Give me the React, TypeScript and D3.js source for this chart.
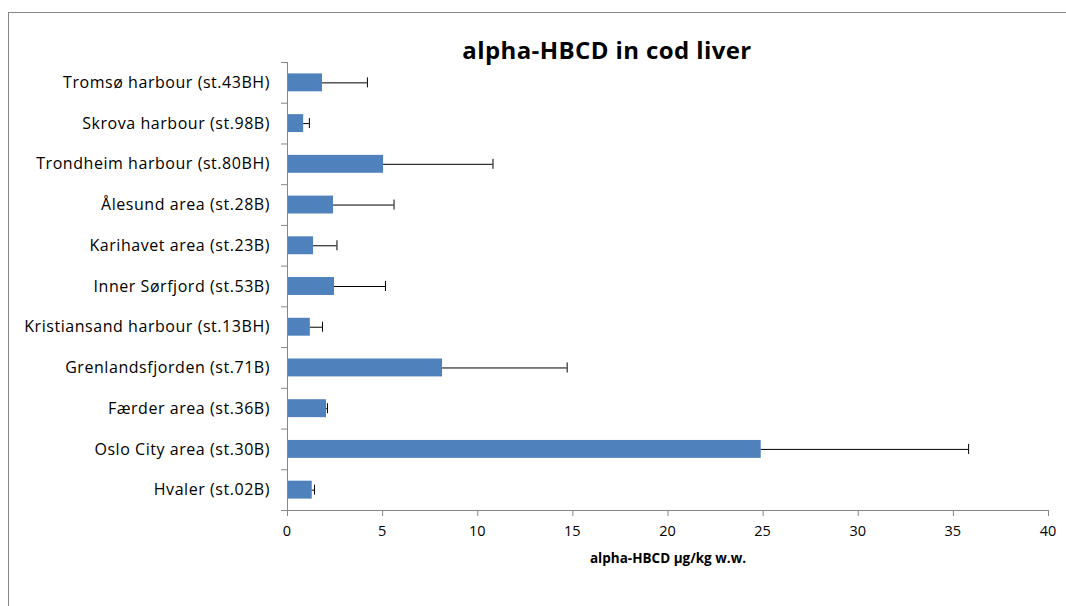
import React from "react";
import * as d3 from "d3";

const stations = [
  "Tromsø harbour (st.43BH)",
  "Skrova harbour (st.98B)",
  "Trondheim harbour (st.80BH)",
  "Ålesund area (st.28B)",
  "Karihavet area (st.23B)",
  "Inner Sørfjord (st.53B)",
  "Kristiansand harbour (st.13BH)",
  "Grenlandsfjorden (st.71B)",
  "Færder area (st.36B)",
  "Oslo City area (st.30B)",
  "Hvaler (st.02B)",
];
const meanValues = [1.84, 0.85, 5.05, 2.42, 1.37, 2.47, 1.2, 8.15, 2.05, 24.9, 1.3];
const upperValues = [4.2, 1.15, 10.8, 5.6, 2.6, 5.15, 1.84, 14.7, 2.1, 35.8, 1.42];
const xTicks = [0, 5, 10, 15, 20, 25, 30, 35, 40];

const W = 1066;
const H = 606;
const left = 287;
const right = 1048;
const top = 62;
const bottom = 510;
const font = "'Open Sans', sans-serif";
const axisColor = "#878787";

export default function App() {
  const x = d3.scaleLinear().domain([0, 40]).range([left, right]);
  const y = d3.scaleBand<string>().domain(stations).range([top, bottom]).paddingInner(0.56).paddingOuter(0.28);
  const band = (bottom - top) / stations.length;
  const capH = 10;

  return (
    <svg width={W} height={H} style={{ position: "absolute", left: 0, top: 0, background: "#fff" }}>
      {/* frame */}
      <line x1={8.5} x2={8.5} y1={12} y2={H} stroke={axisColor} strokeWidth={1} />
      <line x1={8} x2={W} y1={12.5} y2={12.5} stroke={axisColor} strokeWidth={1} />

      <text x={607} y={59} textAnchor="middle" fontFamily={font} fontWeight={700} fontSize={24} fill="#000" letterSpacing={0.4}>
        alpha-HBCD in cod liver
      </text>

      {/* bars */}
      {stations.map((s, i) => (
        <rect key={s} x={x(0)} y={y(s)!} width={x(meanValues[i]) - x(0)} height={y.bandwidth()} fill="#4F81BD" />
      ))}

      {/* error bars */}
      {stations.map((s, i) => {
        const cy = y(s)! + y.bandwidth() / 2;
        return (
          <g key={s + "e"} stroke="#000" strokeWidth={1}>
            <line x1={x(meanValues[i])} x2={x(upperValues[i])} y1={cy + 0.5} y2={cy + 0.5} />
            <line x1={x(upperValues[i]) + 0.5} x2={x(upperValues[i]) + 0.5} y1={cy - capH / 2} y2={cy + capH / 2} />
          </g>
        );
      })}

      {/* y axis */}
      <line x1={left + 0.5} x2={left + 0.5} y1={top} y2={bottom} stroke={axisColor} />
      {d3.range(stations.length + 1).map((k) => (
        <line key={k} x1={left - 6} x2={left} y1={top + k * band + 0.5} y2={top + k * band + 0.5} stroke={axisColor} />
      ))}
      {stations.map((s) => (
        <text
          key={s + "l"}
          x={left - 17}
          y={y(s)! + y.bandwidth() / 2}
          dy="0.35em"
          textAnchor="end"
          fontFamily={font}
          fontSize={16}
          letterSpacing={0.55}
          fill="#000"
        >
          {s}
        </text>
      ))}

      {/* x axis */}
      <line x1={left} x2={right} y1={bottom + 0.5} y2={bottom + 0.5} stroke={axisColor} />
      {xTicks.map((t) => (
        <g key={t}>
          <line x1={x(t) + 0.5} x2={x(t) + 0.5} y1={bottom} y2={bottom + 6} stroke={axisColor} />
          <text x={x(t)} y={536} textAnchor="middle" fontFamily={font} fontSize={14.5} fill="#000">
            {t}
          </text>
        </g>
      ))}
      <text x={668} y={563} textAnchor="middle" fontFamily={font} fontWeight={700} fontSize={13.5} fill="#000">
        alpha-HBCD µg/kg w.w.
      </text>
    </svg>
  );
}
